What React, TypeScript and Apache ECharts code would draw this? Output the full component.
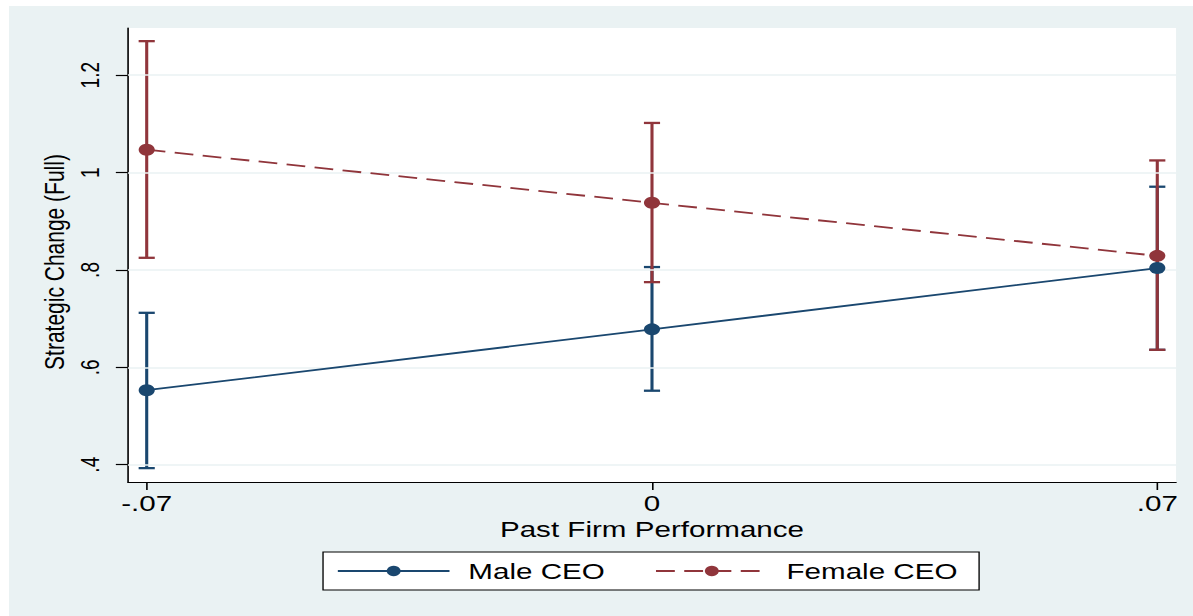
import React, { useEffect, useRef } from "react";
import * as echarts from "echarts";

// ---- data ----
const xTicks = [-0.07, 0, 0.07];
const yTicks = [0.4, 0.6, 0.8, 1, 1.2];
const xValues = [-0.07, 0, 0.07];
const maleMean = [0.553, 0.678, 0.804];
const maleLow = [0.393, 0.552, 0.636];
const maleHigh = [0.712, 0.806, 0.971];
const femaleMean = [1.047, 0.938, 0.829];
const femaleLow = [0.825, 0.775, 0.636];
const femaleHigh = [1.27, 1.102, 1.025];
const seriesNames = ["Male CEO", "Female CEO"];

const NAVY = "#1a476f";
const MAROON = "#90353b";
const BG = "#eaf2f3";
const FONT = "'Liberation Sans', Arial, Helvetica, sans-serif";

const W = 880; // unscaled width; stretched horizontally to 1184px
const H = 610;
const K = 1184 / W;

const fmt = (v: number) => {
  if (v === 0) return "0";
  const s = String(Math.round(v * 1000) / 1000);
  return s.replace(/^(-?)0\./, "$1.");
};

const errRenderer = (color: string) => (params: any, api: any) => {
  const x = api.value(0);
  const lo = api.value(1);
  const hi = api.value(2);
  const p1 = api.coord([x, lo]);
  const p2 = api.coord([x, hi]);
  const hw = 6;
  const style = { stroke: color, lineWidth: 2.3 };
  return {
    type: "group",
    children: [
      { type: "line", shape: { x1: p1[0], y1: p1[1], x2: p2[0], y2: p2[1] }, style },
      { type: "line", shape: { x1: p1[0] - hw, y1: p1[1], x2: p1[0] + hw, y2: p1[1] }, style },
      { type: "line", shape: { x1: p2[0] - hw, y1: p2[1], x2: p2[0] + hw, y2: p2[1] }, style },
    ],
  };
};

export default function App() {
  const ref = useRef<HTMLDivElement>(null);
  useEffect(() => {
    document.body.style.overflow = "hidden";
    const chart = echarts.init(ref.current!, null, { renderer: "svg" });
    const maleErr = xValues.map((x, i) => [x, maleLow[i], maleHigh[i]]);
    const femaleErr = xValues.map((x, i) => [x, femaleLow[i], femaleHigh[i]]);
    chart.setOption({
      animation: false,
      backgroundColor: BG,
      textStyle: { fontFamily: FONT, color: "#000" },
      grid: {
        left: 88.4,
        right: 12.6,
        top: 22,
        bottom: 134,
        show: true,
        backgroundColor: "#ffffff",
        borderWidth: 0,
      },
      legend: {
        data: seriesNames,
        left: 233.4,
        top: 546,
        orient: "horizontal",
        itemWidth: 83,
        itemHeight: 13,
        itemGap: 37,
        padding: [8, 16, 8, 10],
        backgroundColor: "#ffffff",
        borderColor: "#000000",
        borderWidth: 1,
        borderRadius: 0,
        textStyle: { fontSize: 22, fontFamily: FONT, color: "#000", padding: [0, 0, 0, 9] },
      },
      xAxis: {
        type: "value",
        min: -0.0726,
        max: 0.0726,
        name: "Past Firm Performance",
        nameLocation: "middle",
        nameGap: 33,
        nameTextStyle: { fontSize: 22, fontFamily: FONT, color: "#000" },
        axisLine: { show: true, onZero: false, lineStyle: { color: "#000", width: 1.2 } },
        axisTick: { show: true, length: 8, customValues: xTicks, lineStyle: { color: "#000", width: 1.2 } },
        axisLabel: { customValues: xTicks, fontSize: 22, margin: 10, color: "#000", formatter: fmt },
        splitLine: { show: false },
      },
      yAxis: {
        type: "value",
        min: 0.3645,
        max: 1.297,
        name: "Strategic Change (Full)",
        nameLocation: "middle",
        nameGap: 41,
        nameRotate: 90,
        nameTextStyle: { fontSize: 21, fontFamily: FONT, color: "#000", padding: [0, 14, 0, 0] },
        axisLine: { show: true, onZero: false, lineStyle: { color: "#000", width: 1.2 } },
        axisTick: { show: true, length: 9, customValues: yTicks, lineStyle: { color: "#000", width: 1.2 } },
        axisLabel: { customValues: yTicks, fontSize: 19, margin: 18, rotate: 90, color: "#000", formatter: fmt },
        splitLine: { show: false },
      },
      series: [
        {
          name: "gridlines",
          type: "line",
          data: [],
          z: 1,
          silent: true,
          markLine: {
            silent: true,
            symbol: ["none", "none"],
            label: { show: false },
            lineStyle: { color: BG, width: 1.5, type: "solid" },
            data: yTicks.map((v) => ({ yAxis: v })),
          },
        },
        {
          name: "Male CI",
          type: "custom",
          z: 3,
          renderItem: errRenderer(NAVY),
          encode: { x: 0, y: [1, 2] },
          data: maleErr,
        },
        {
          name: "Female CI",
          type: "custom",
          z: 4,
          renderItem: errRenderer(MAROON),
          encode: { x: 0, y: [1, 2] },
          data: femaleErr,
        },
        {
          name: "Female CEO",
          type: "line",
          z: 5,
          data: xValues.map((x, i) => [x, femaleMean[i]]),
          symbol: "circle",
          symbolSize: 12,
          showSymbol: true,
          itemStyle: { color: MAROON },
          lineStyle: { color: MAROON, width: 1.8, type: [14, 7] },
        },
        {
          name: "Male CEO",
          type: "line",
          z: 6,
          data: xValues.map((x, i) => [x, maleMean[i]]),
          symbol: "circle",
          symbolSize: 12,
          showSymbol: true,
          itemStyle: { color: NAVY },
          lineStyle: { color: NAVY, width: 1.8, type: "solid" },
        },
      ],
    });
    return () => chart.dispose();
  }, []);
  return (
    <div
      ref={ref}
      style={{
        position: "absolute",
        left: 9,
        top: 6,
        width: W,
        height: H,
        transform: `scaleX(${K})`,
        transformOrigin: "0 0",
      }}
    />
  );
}
